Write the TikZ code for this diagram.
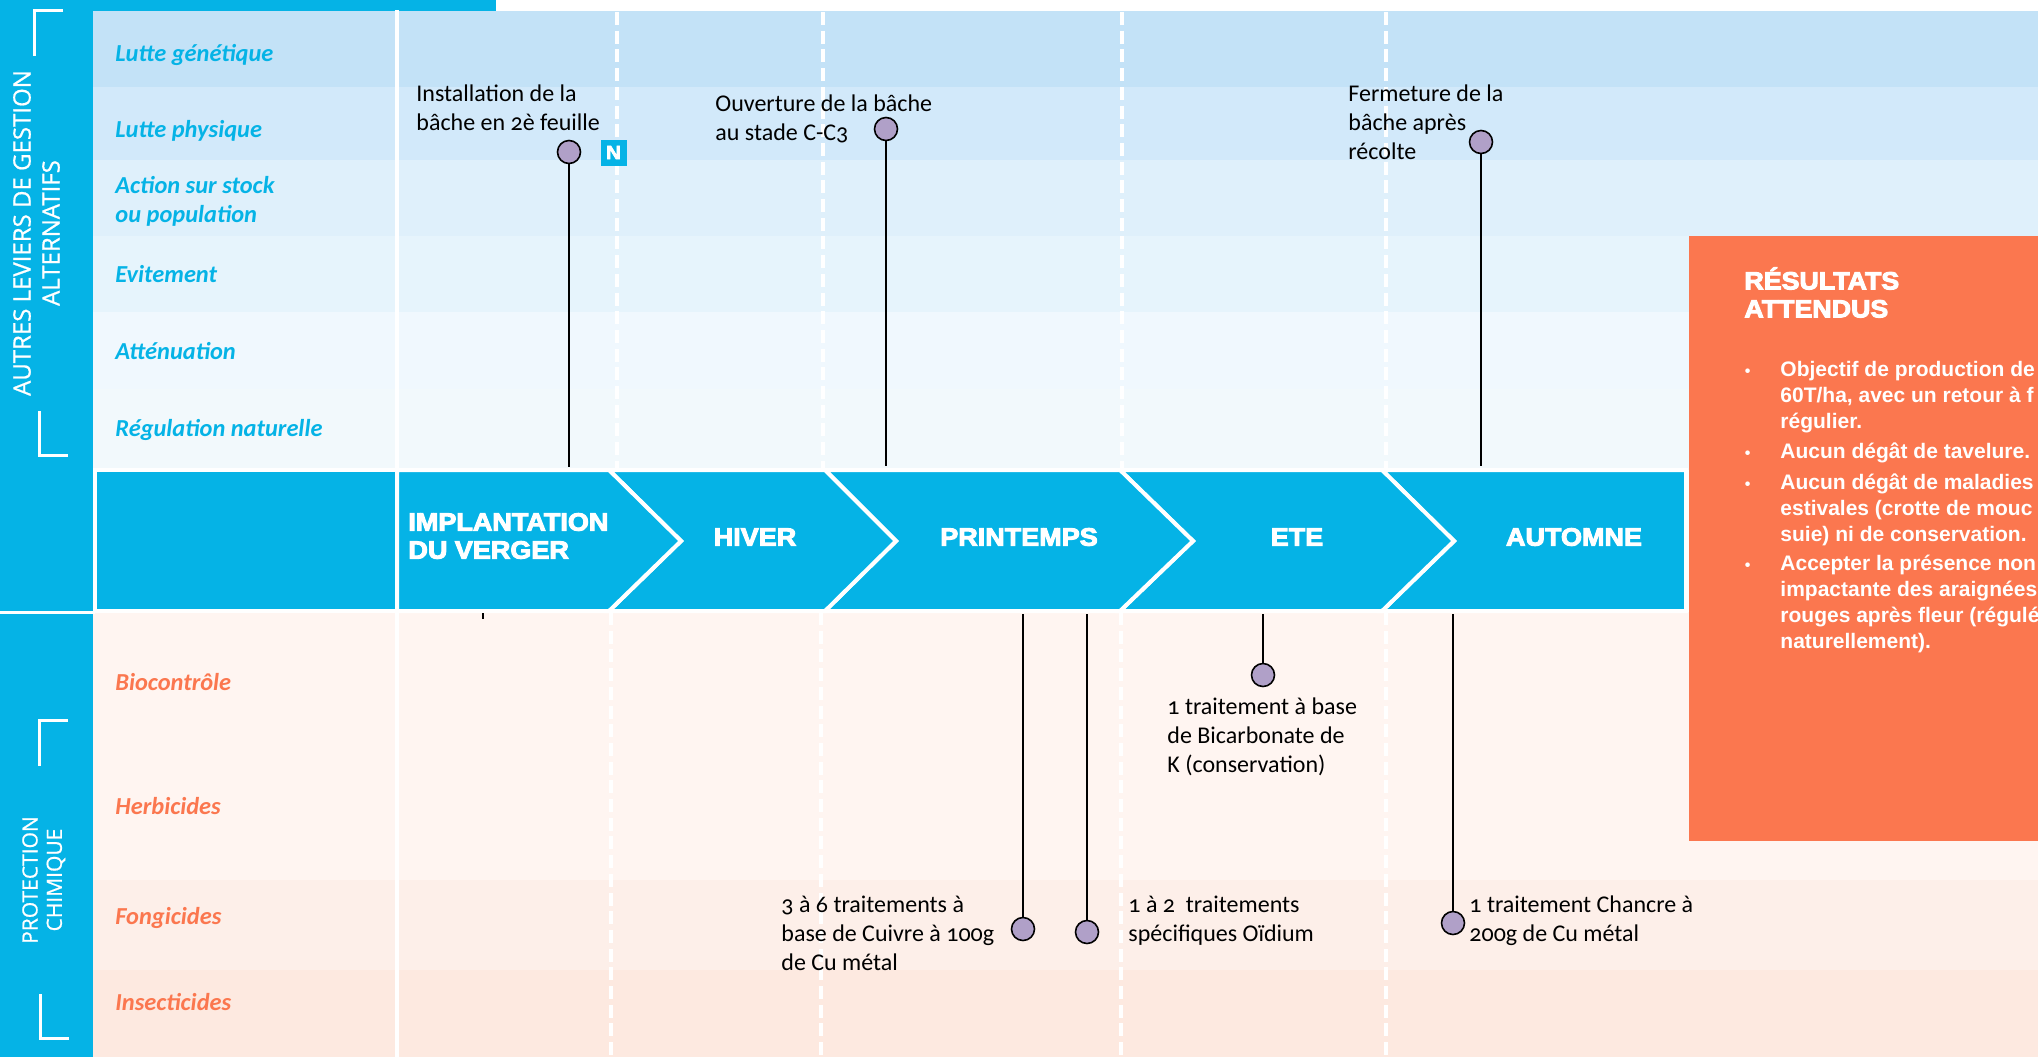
\documentclass[tikz,border=0pt]{standalone}
\usepackage{xcolor}
\usepackage{fontspec}
\setmainfont[Numbers=OldStyle]{Carlito}
\newfontfamily\sidefont[FakeBold=.8]{Open Sans}
\newfontfamily\headfont[FakeBold=4,FakeStretch=1.08]{Liberation Sans}
\newfontfamily\resfont{Liberation Sans}
\usetikzlibrary{positioning}
\definecolor{cblue}{HTML}{05B3E6}
\definecolor{corange}{HTML}{FB774F}
\definecolor{cpin}{HTML}{B0A0C8}
\tikzset{
  leverblue/.style={anchor=west,inner sep=0pt,text=cblue,font=\fontsize{12.2}{14.5}\selectfont\bfseries\itshape,align=left},
  leverorange/.style={leverblue,text=corange},
  sidelabel/.style={rotate=90,inner sep=0pt,text=white,font=\sidefont\fontsize{12}{14}\selectfont},
  sidelow/.style={sidelabel,font=\sidefont\fontsize{10.5}{14}\selectfont},
  seasonlabel/.style={inner sep=0pt,text=white,font=\headfont\bfseries\fontsize{12.5}{14}\selectfont,align=left},
  note/.style={anchor=north west,inner sep=0pt,align=left,font=\fontsize{12}{14.5}\selectfont},
  pin/.style={circle,draw=black,fill=cpin,line width=.8pt,minimum size=11.5pt,inner sep=0pt},
  stem/.style={draw=black,line width=1pt},
  chevron/.style={fill=cblue,draw=white,line width=2pt,line join=miter},
  dashsep/.style={draw=white,line width=2pt,dash pattern=on 6.5pt off 2.85pt},
  corner/.style={draw=white,line width=1.5pt},
  result/.style={anchor=north west,inner sep=0pt,text=white,align=left,font=\resfont\bfseries\fontsize{10.5}{13}\selectfont}
}
\newcommand{\resbullet}{\llap{{\fontsize{8}{8}\selectfont •}\hspace{15pt}}}
\begin{document}
\begin{tikzpicture}[x=.5pt,y=-.5pt]
      \useasboundingbox (0,0) rectangle (2038,1057);
      % left strip and rows
      \fill[cblue] (0,0) rectangle (93,1057);
      \fill[cblue] (0,0) rectangle (496,12);
      \fill[white] (496,0) rectangle (2038,11);
      \foreach \ya/\yb/\col in {11/87/C3E2F7,87/160/D2E9FA,160/236/DFF0FB,236/312/E6F4FC,312/389/F0F8FE,389/470/F2F9FC,612/880/FFF5F1,880/970/FDEFE9,970/1057/FDE9E0}{
        \definecolor{rowcol}{HTML}{\col}
        \fill[rowcol] (93,\ya) rectangle (2038,\yb);
      }
      \draw[white,line width=1.5pt] (0,612) -- (95,612);

      % separators
      \draw[white,line width=2pt] (397,10) -- (397,1057);
      \draw[dashsep] (617,12) -- (617,470);
      \draw[dashsep] (611,612) -- (611,1057);
      \draw[dashsep] (823,12) -- (823,470);
      \draw[dashsep] (821,612) -- (821,1057);
      \draw[dashsep] (1122,12) -- (1122,470);
      \draw[dashsep] (1121,612) -- (1121,1057);
      \draw[dashsep] (1386,12) -- (1386,470);
      \draw[dashsep] (1386,612) -- (1386,1057);

      % season band
      \draw[chevron] (95,470) rectangle (397,611);
      \draw[chevron] (1382,470) -- (1686,470) -- (1686,611) -- (1382,611) -- (1454,541) -- cycle;
      \draw[chevron] (1120,470) -- (1382,470) -- (1454,541) -- (1382,611) -- (1120,611) -- (1193,541) -- cycle;
      \draw[chevron] (825,470) -- (1120,470) -- (1193,541) -- (1120,611) -- (825,611) -- (896,541) -- cycle;
      \draw[chevron] (609,470) -- (825,470) -- (896,541) -- (825,611) -- (609,611) -- (681,541) -- cycle;
      \draw[chevron] (397,470) -- (609,470) -- (681,541) -- (609,611) -- (397,611) -- cycle;
      \node[seasonlabel,anchor=west] (implant) at (408,536){IMPLANTATION\\DU VERGER};
      \node[seasonlabel] (hiver) at (755,537){HIVER};
      \node[seasonlabel] (printemps) at (1019,537){PRINTEMPS};
      \node[seasonlabel] (ete) at (1297,537){ETE};
      \node[seasonlabel] (automne) at (1574,537){AUTOMNE};

      % side titles
      \node[sidelabel] (autres) at (22,233){AUTRES LEVIERS DE GESTION};
      \node[sidelabel] (altern) at (51,233){ALTERNATIFS};
      \node[sidelow] (protec) at (30,880){PROTECTION};
      \node[sidelow] (chim) at (56,880){CHIMIQUE};
      \draw[corner] (63,10) -- (34,10) -- (34,56);
      \draw[corner] (39,411) -- (39,455) -- (68,455);
      \draw[corner] (39,766) -- (39,720) -- (68,720);
      \draw[corner] (40,994) -- (40,1038) -- (69,1038);

      % row names
      \node[leverblue] (genet) at (115,55){Lutte génétique};
      \node[leverblue] (phys) at (115,131){Lutte physique};
      \node[leverblue] (stock) at (115,201){Action sur stock\\ou population};
      \node[leverblue] (evit) at (115,274){Evitement};
      \node[leverblue] (atten) at (115,351){Atténuation};
      \node[leverblue] (regul) at (115,430){Régulation naturelle};
      \node[leverorange] (bio) at (115,682){Biocontrôle};
      \node[leverorange] (herb) at (115,806){Herbicides};
      \node[leverorange] (fong) at (115,918){Fongicides};
      \node[leverorange] (insec) at (115,1002){Insecticides};

      % pins
      \node[pin] (p1) at (569,152){};
      \node[pin] (p2) at (886,129){};
      \node[pin] (p3) at (1481,142){};
      \node[pin] (p4) at (1023,929){};
      \node[pin] (p5) at (1087,932){};
      \node[pin] (p6) at (1263,675){};
      \node[pin] (p7) at (1453,923){};
      \coordinate (s1) at (569,467);
      \coordinate (s2) at (886,466);
      \coordinate (s3) at (1481,466);
      \coordinate (s4) at (1023,614);
      \coordinate (s5) at (1087,614);
      \coordinate (s6) at (1263,614);
      \coordinate (s7) at (1453,614);
      \foreach \i in {1,...,7}{
        \draw[stem] (p\i) -- (s\i);
      }
      \coordinate (t1) at (483,613);
      \coordinate (t2) at (483,619);
      \draw[stem] (t1) -- (t2);
      \node[fill=cblue,text=white,inner sep=0pt,minimum width=13pt,minimum height=13pt,font=\headfont\bfseries\fontsize{9.5}{9.5}\selectfont] (n) at (613.5,152.5){N};

      % notes
      \node[note] (install) at (416,84){Installation de la\\bâche en 2è feuille};
      \node[note] (ouvert) at (715,94){Ouverture de la bâche\\au stade C-C3};
      \node[note] (ferm) at (1348,84){Fermeture de la\\bâche après\\récolte};
      \node[note] (bicarb) at (1167,697){1 traitement à base\\de Bicarbonate de\\K (conservation)};
      \node[note] (cuivre) at (781,896){3 à 6 traitements à\\base de Cuivre à 100g\\de Cu métal};
      \node[note] (oidium) at (1128,896){1 à 2\ \ traitements\\spécifiques Oïdium};
      \node[note] (chancre) at (1469,895){1 traitement Chancre à\\200g de Cu métal};

      % results
      \fill[corange] (1689,236) rectangle (2038,841);
      \begin{scope}
      \clip (1689,236) rectangle (2038,841);
      \node[result,font=\headfont\bfseries\fontsize{12.4}{14}\selectfont] (restitle) at (1744,267){RÉSULTATS\\ATTENDUS};
      \node[result] (res1) at (1780,361){\resbullet Objectif de production de\\60T/ha, avec un retour à f\\régulier.};
      \node[result] (res2) at (1780,442){\resbullet Aucun dégât de tavelure.};
      \node[result] (res3) at (1780,473){\resbullet Aucun dégât de maladies\\estivales (crotte de mouc\\suie) ni de conservation.};
      \node[result] (res4) at (1780,555){\resbullet Accepter la présence non\\impactante des araignées\\rouges après fleur (régulé\\naturellement).};
      \end{scope}
    \end{tikzpicture}
\end{document}
